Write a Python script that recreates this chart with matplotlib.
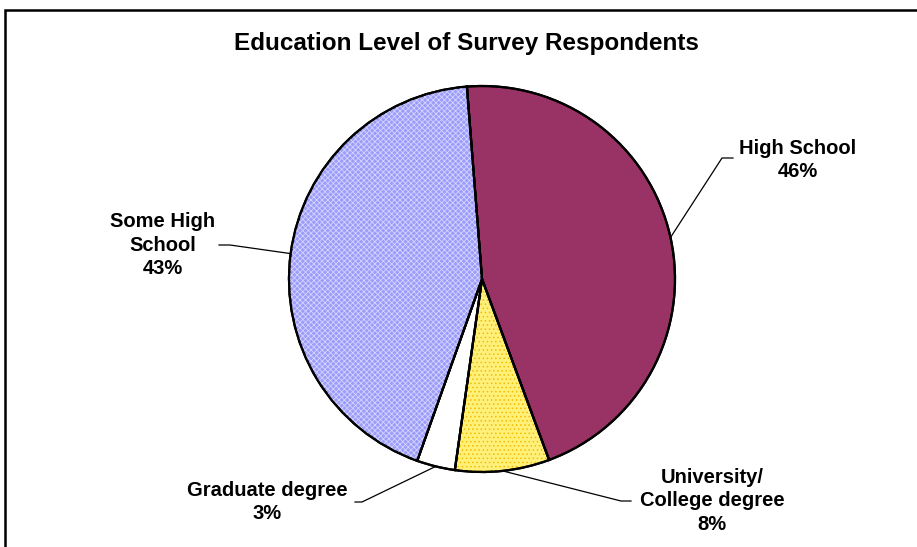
import numpy as np
import matplotlib.pyplot as plt
from matplotlib.patches import Wedge, Rectangle

plt.rcParams['font.family'] = ['Liberation Sans', 'DejaVu Sans']

# data (shares in %)
labels = ['High School', 'University/\nCollege degree', 'Graduate degree', 'Some High\nSchool']
shares = [45.6, 7.9, 3.2, 43.3]
colors = ['#993366', '#FFF07A', '#FFFFFF', '#9C9CFA']
hatches = [None, '....', None, 'xxxxxx']
hatch_colors = [None, '#F2BE00', None, '#D4D4FF']

W, H = 917, 547
cx, cy, R = 482, 279, 193   # pie centre / radius in pixels


def px(x, y):
    # pixel (from top-left) -> data coords
    return (x - cx) / R, (cy - y) / R


fig = plt.figure(figsize=(W / 100, H / 100), dpi=100)
ax = fig.add_axes([0, 0, 1, 1])

wedges, _ = ax.pie(shares, colors=colors, startangle=94.5, counterclock=False,
                   radius=1, center=(0, 0), frame=True,
                   wedgeprops=dict(edgecolor='black', linewidth=1.6))
ax.set_xlim(-cx / R, (W - cx) / R)
ax.set_ylim(-(H - cy) / R, cy / R)
ax.set_aspect('auto')
ax.axis('off')

plt.rcParams['hatch.linewidth'] = 0.6
for w, h, hc in zip(wedges, hatches, hatch_colors):
    w.set_zorder(1)
    if h:
        ov = Wedge(w.center, w.r, w.theta1, w.theta2, fill=False, hatch=h,
                   edgecolor=hc, linewidth=0, zorder=2)
        ax.add_patch(ov)
    ol = Wedge(w.center, w.r, w.theta1, w.theta2, fill=False,
               edgecolor='black', linewidth=1.6, zorder=3)
    ax.add_patch(ol)

# label layout: text centre, elbow, line end (pixels)
layout = [
    ((798, 160), (722, 158), (733, 158)),
    ((712, 501), (621, 501), (631, 501)),
    ((267, 502), (362, 502), (355, 502)),
    ((163, 245), (230, 245), (219, 245)),
]
for w, lab, share, (tc, elbow, end) in zip(wedges, labels, shares, layout):
    mid = np.deg2rad((w.theta1 + w.theta2) / 2)
    sx, sy = np.cos(mid), np.sin(mid)
    ex, ey = px(*elbow)
    fx, fy = px(*end)
    ax.plot([sx, ex, fx], [sy, ey, fy], color='black', lw=0.9, zorder=4)
    tx, ty = px(*tc)
    ax.text(tx, ty, f'{lab}\n{share:.0f}%', ha='center', va='center',
            fontsize=14.5, fontweight='bold', linespacing=1.3)

tx, ty = px(466, 43)
ax.text(tx, ty, 'Education Level of Survey Respondents', ha='center', va='center',
        fontsize=17.5, fontweight='bold')

# chart frame (runs off the right and bottom)
fig.patches.append(Rectangle((5 / W, -0.1), 1.2, 1 - 10 / H + 0.1,
                             transform=fig.transFigure, fill=False,
                             edgecolor='black', linewidth=1.8))

fig.savefig('out.png', dpi=100, facecolor='white')
